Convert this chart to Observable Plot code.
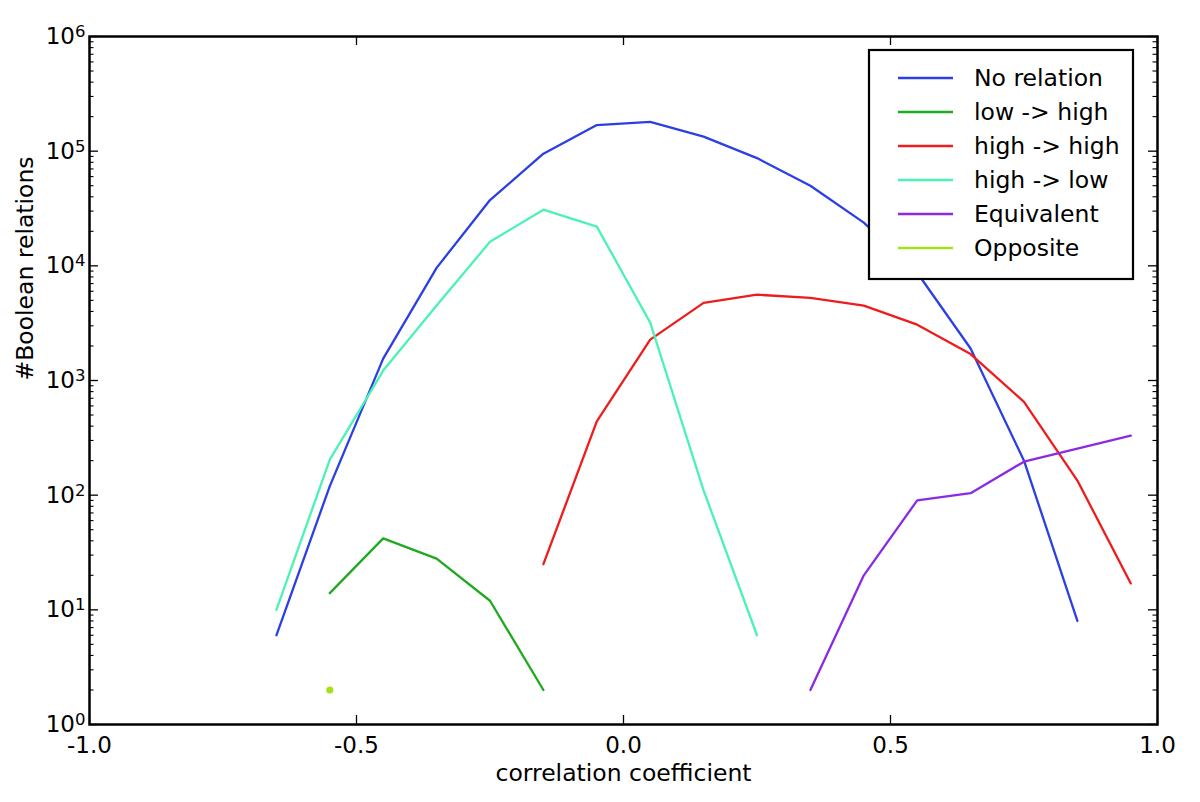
<!DOCTYPE html>
<html><head><meta charset="utf-8">
<script src="https://cdn.jsdelivr.net/npm/d3@7"></script>
<script src="https://cdn.jsdelivr.net/npm/@observablehq/plot@0.6"></script>
<style>
body{margin:0;background:#fff;}
#chart{position:relative;width:1200px;height:802px;}
</style>
</head><body><div id="chart"></div>
<script>
// ---- data ----
const seriesNames = ["No relation", "low -> high", "high -> high", "high -> low", "Equivalent", "Opposite"];
const seriesColors = ["#2b3fe4", "#1eaa1e", "#ee1c1c", "#4cf2b4", "#8a2be2", "#a6e01a"];

const xNoRelation = [-0.65,-0.55,-0.45,-0.35,-0.25,-0.15,-0.05,0.05,0.15,0.25,0.35,0.45,0.55,0.65,0.75,0.85];
const yNoRelation = [6,120,1550,9600,37500,95000,169000,180000,134000,87000,50000,23800,8700,1900,200,8];

const xLowHigh = [-0.55,-0.45,-0.35,-0.25,-0.15];
const yLowHigh = [14,42,28,12,2];

const xHighHigh = [-0.15,-0.05,0.05,0.15,0.25,0.35,0.45,0.55,0.65,0.75,0.85,0.95];
const yHighHigh = [25,440,2270,4750,5600,5250,4500,3070,1700,650,134,17];

const xHighLow = [-0.65,-0.55,-0.45,-0.35,-0.25,-0.15,-0.05,0.05,0.15,0.25];
const yHighLow = [10,204,1220,4500,16200,30900,22000,3200,110,6];

const xEquivalent = [0.35,0.45,0.55,0.65,0.75,0.85,0.95];
const yEquivalent = [2,20,90,104,196,255,330];

const xOpposite = [-0.55];
const yOpposite = [2];

const xTicks = [-1.0,-0.5,0.0,0.5,1.0];
const yTicks = [1,10,100,1000,10000,100000,1000000];

// ---- build tables ----
const seriesX = [xNoRelation, xLowHigh, xHighHigh, xHighLow, xEquivalent, xOpposite];
const seriesY = [yNoRelation, yLowHigh, yHighHigh, yHighLow, yEquivalent, yOpposite];
const rows = [];
seriesNames.forEach((name, i) => {
  seriesX[i].forEach((x, j) => rows.push({series: name, x, y: seriesY[i][j]}));
});
const lineRows = rows.filter(d => d.series !== "Opposite");
const dotRows = rows.filter(d => d.series === "Opposite");

const yMinor = [];
yTicks.slice(0, -1).forEach(d => { for (let k = 2; k <= 9; k++) yMinor.push(d * k); });

const W = 1200, H = 802, mL = 89, mR = 43, mT = 36, mB = 78;
const pw = W - mL - mR, ph = H - mT - mB;
const majorLen = 9, minorLen = 4.5;

const plot = Plot.plot({
  width: W, height: H,
  marginLeft: mL, marginRight: mR, marginTop: mT, marginBottom: mB,
  style: {fontFamily: "DejaVu Sans", fontSize: "23px", color: "black", background: "white"},
  x: {domain: [-1, 1]},
  y: {type: "log", domain: [1, 1e6]},
  color: {domain: seriesNames, range: seriesColors},
  marks: [
    Plot.axisX({ticks: xTicks, tickSize: 0, tickPadding: 12, tickFormat: d => d.toFixed(1), label: null, fontSize: 23}),
    Plot.axisY({ticks: yTicks, tickSize: 0, tickPadding: 4, tickFormat: d => "10^" + Math.round(Math.log10(d)), label: null, fontSize: 23}),
    // inward ticks, all four sides
    Plot.tickX(xTicks, {x: d => d, insetTop: ph - majorLen, stroke: "black", strokeWidth: 1.3}),
    Plot.tickX(xTicks, {x: d => d, insetBottom: ph - majorLen, stroke: "black", strokeWidth: 1.3}),
    Plot.tickY(yTicks, {y: d => d, insetRight: pw - majorLen, stroke: "black", strokeWidth: 1.3}),
    Plot.tickY(yTicks, {y: d => d, insetLeft: pw - majorLen, stroke: "black", strokeWidth: 1.3}),
    Plot.tickY(yMinor, {y: d => d, insetRight: pw - minorLen, stroke: "black", strokeWidth: 1.1}),
    Plot.tickY(yMinor, {y: d => d, insetLeft: pw - minorLen, stroke: "black", strokeWidth: 1.1}),
    Plot.line(lineRows, {x: "x", y: "y", z: "series", stroke: "series", strokeWidth: 2.3}),
    Plot.dot(dotRows, {x: "x", y: "y", fill: "series", r: 3.6, stroke: null}),
    Plot.frame({stroke: "black", strokeWidth: 2.5}),
    Plot.text(["correlation coefficient"], {text: d => d, frameAnchor: "bottom", lineAnchor: "middle", dy: 49, fontSize: 23.5, fill: "black"}),
    Plot.text(["#Boolean relations"], {text: d => d, frameAnchor: "left", lineAnchor: "middle", dx: -64, rotate: -90, fontSize: 23.5, fill: "black"})
  ]
});

document.getElementById("chart").appendChild(plot);

// superscript exponents on y tick labels
d3.select(plot).selectAll('[aria-label="y-axis tick label"] text').each(function() {
  const t = d3.select(this);
  const s = t.text();
  const parts = s.split("^");
  if (parts.length === 2) {
    t.text(parts[0]);
    t.append("tspan").attr("font-size", "16.5px").attr("dy", "-7").text(parts[1]);
  }
});

// legend box
const svg = d3.select(plot);
const lg = svg.append("g").attr("font-family", "DejaVu Sans").attr("font-size", 23.5).attr("text-anchor", "start");
lg.append("rect").attr("x", 869).attr("y", 50).attr("width", 264).attr("height", 229)
  .attr("fill", "white").attr("stroke", "black").attr("stroke-width", 2.2);
seriesNames.forEach((name, i) => {
  const cy = 78 + i * 34;
  lg.append("line").attr("x1", 898).attr("x2", 953).attr("y1", cy).attr("y2", cy)
    .attr("stroke", seriesColors[i]).attr("stroke-width", 2.3);
  lg.append("text").attr("x", 974).attr("y", cy).attr("dy", "0.36em").attr("text-anchor", "start").attr("fill", "black").text(name);
});
</script>
</body></html>
